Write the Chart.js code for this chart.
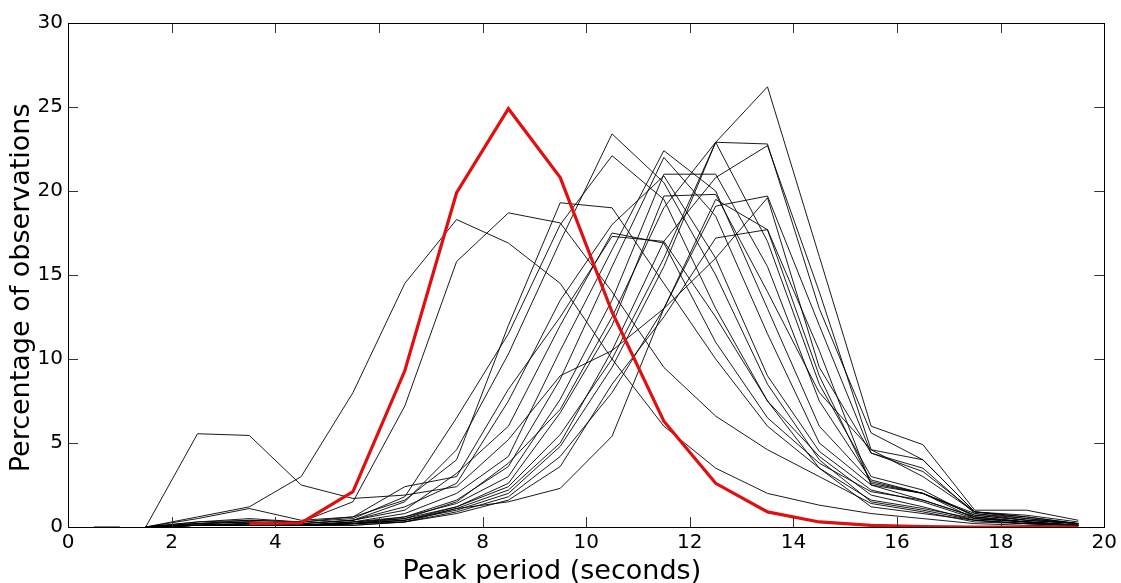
<!DOCTYPE html>
<html>
<head>
<meta charset="utf-8">
<script src="https://cdn.jsdelivr.net/npm/chart.js@4"></script>
<style>
  html, body { margin: 0; padding: 0; background: #fff; }
</style>
</head>
<body>
<canvas id="chart" width="1121" height="583"></canvas>
<script>
// bin centres (seconds)
const periods = [1.5, 2.5, 3.5, 4.5, 5.5, 6.5, 7.5, 8.5, 9.5, 10.5, 11.5, 12.5, 13.5, 14.5, 15.5, 16.5, 17.5, 18.5, 19.5]

// highlighted site (red)
const redSite = [null, null, 0.2, 0.25, 2.1, 9.3, 19.9, 24.9, 20.8, 12.8, 6.3, 2.6, 0.9, 0.3, 0.1, 0.03, 0.0, 0.0, 0.0]

// other sites (black)
const site01 = [0, 5.55, 5.45, 2.5, 1.7, 1.9, 2.4, 5.2, 9.0, 10.5, 13.0, 16.0, 19.6, 9.5, 4.4, 3.3, 0.9, 0.6, 0.2]
const site02 = [0, 0.6, 1.2, 3.0, 8.0, 14.5, 18.3, 16.9, 14.5, 10.0, 6.0, 3.5, 2.0, 1.3, 0.8, 0.5, 0.2, 0.1, 0.05]
const site03 = [0, 0.3, 0.5, 0.3, 1.5, 7.2, 15.8, 18.7, 18.1, 14.0, 9.5, 6.6, 4.6, 3.0, 1.4, 0.9, 0.3, 0.2, 0.1]
const site04 = [0, 0.2, 0.3, 0.2, 0.4, 1.5, 4.6, 10.3, 17.0, 23.4, 20.5, 15.0, 8.5, 4.0, 1.5, 1.0, 0.4, 0.2, 0.1]
const site05 = [0, 0.2, 0.4, 0.3, 0.5, 1.8, 6.5, 11.5, 18.0, 22.1, 19.5, 13.0, 7.5, 3.5, 1.6, 1.1, 0.5, 0.3, 0.1]
const site06 = [0, 0.3, 0.4, 0.3, 0.6, 1.6, 4.0, 12.0, 19.3, 19.0, 14.5, 10.0, 6.0, 3.5, 1.2, 0.8, 0.4, 0.2, 0.1]
const site07 = [0, 0.2, 0.3, 0.2, 0.4, 1.0, 3.2, 6.0, 12.0, 17.5, 16.9, 11.0, 6.5, 3.8, 2.1, 1.6, 0.6, 0.3, 0.1]
const site08 = [0, 0.1, 0.2, 0.1, 0.3, 0.8, 2.0, 4.2, 10.5, 16.5, 22.4, 20.0, 13.0, 6.0, 2.7, 2.0, 0.8, 0.4, 0.2]
const site09 = [0, 0.1, 0.2, 0.1, 0.2, 0.6, 1.6, 3.6, 8.8, 15.5, 22.0, 18.5, 11.5, 5.0, 2.5, 1.6, 0.6, 0.3, 0.1]
const site10 = [0, 0.1, 0.2, 0.1, 0.3, 0.6, 1.4, 3.0, 7.6, 13.5, 21.0, 21.0, 15.5, 7.5, 2.8, 2.0, 0.7, 0.4, 0.2]
const site11 = [0, 0.1, 0.1, 0.1, 0.2, 0.5, 1.2, 2.6, 6.8, 12.0, 19.7, 19.8, 14.0, 8.0, 4.6, 4.0, 0.9, 0.5, 0.2]
const site12 = [0, 0.1, 0.1, 0.1, 0.2, 0.4, 1.2, 2.4, 5.5, 10.0, 16.0, 22.9, 22.8, 13.0, 5.6, 4.0, 0.9, 0.7, 0.3]
const site13 = [0, 0.1, 0.1, 0.1, 0.2, 0.4, 1.0, 2.0, 4.8, 9.5, 15.5, 22.9, 26.2, 16.1, 6.0, 4.9, 1.0, 1.0, 0.4]
const site14 = [0, 0.1, 0.2, 0.1, 0.3, 0.5, 1.5, 3.8, 7.0, 12.5, 19.0, 22.9, 17.0, 8.5, 3.0, 2.2, 0.6, 0.3, 0.1]
const site15 = [0, 0.1, 0.1, 0.1, 0.2, 0.3, 0.9, 1.8, 4.2, 8.0, 13.0, 19.1, 19.7, 12.0, 4.4, 3.5, 0.8, 0.5, 0.2]
const site16 = [0, 0.1, 0.1, 0.1, 0.1, 0.3, 0.8, 1.6, 3.6, 8.5, 12.5, 17.2, 17.7, 10.5, 2.5, 2.0, 0.7, 0.4, 0.2]
const site17 = [0, 0.1, 0.1, 0.1, 0.2, 0.4, 1.1, 2.2, 5.0, 10.5, 17.0, 20.8, 22.7, 14.0, 4.6, 3.0, 0.9, 0.6, 0.2]
const site18 = [0, 0.1, 0.1, 0.1, 0.1, 0.3, 1.1, 1.5, 2.3, 5.4, 13.0, 19.5, 17.7, 9.0, 2.6, 2.0, 0.5, 0.3, 0.1]
const site19 = [0, 0.2, 0.3, 0.2, 0.4, 1.2, 2.6, 7.5, 13.5, 18.0, 20.9, 16.0, 9.0, 4.5, 2.2, 1.5, 0.5, 0.3, 0.1]
const site20 = [0, 0.5, 1.1, 0.4, 0.6, 2.4, 3.0, 8.2, 12.5, 17.3, 17.0, 12.5, 7.5, 4.2, 1.9, 1.2, 0.4, 0.2, 0.1]

// short stub at the far left
const stubPeriods = [0.5, 1.0]
const stubValues = [0, 0]

const blackSites = [site01, site02, site03, site04, site05, site06, site07, site08, site09, site10,
                    site11, site12, site13, site14, site15, site16, site17, site18, site19, site20]

const xTicks = [0, 2, 4, 6, 8, 10, 12, 14, 16, 18, 20]
const yTicks = [0, 5, 10, 15, 20, 25, 30]

const toPoints = (xs, ys) => xs.map((x, i) => ({x: x, y: ys[i]}))

const datasets = [{
    label: 'red',
    data: toPoints(periods, redSite),
    borderColor: '#e01010',
    borderWidth: 3.2,
    pointRadius: 0,
    order: 0,
}]
blackSites.forEach((s, i) => {
    datasets.push({
        label: 'site' + (i + 1),
        data: toPoints(periods, s),
        borderColor: '#000',
        borderWidth: 0.9,
        pointRadius: 0,
        order: 1,
    })
})
datasets.push({
    label: 'stub',
    data: toPoints(stubPeriods, stubValues),
    borderColor: '#000',
    borderWidth: 1.2,
    pointRadius: 0,
    order: 1,
})

// matlab style box with inward ticks on all four sides
const boxTicks = {
    id: 'boxTicks',
    afterDraw(chart) {
        const {ctx, chartArea: a, scales} = chart
        const x = scales.x, y = scales.y
        const len = 10
        ctx.save()
        ctx.strokeStyle = '#333'
        ctx.lineWidth = 1
        ctx.beginPath()
        xTicks.forEach(v => {
            const px = Math.round(x.getPixelForValue(v)) + 0.5
            ctx.moveTo(px, a.bottom); ctx.lineTo(px, a.bottom - len)
            ctx.moveTo(px, a.top); ctx.lineTo(px, a.top + len)
        })
        yTicks.forEach(v => {
            const py = Math.round(y.getPixelForValue(v)) + 0.5
            ctx.moveTo(a.left, py); ctx.lineTo(a.left + len, py)
            ctx.moveTo(a.right, py); ctx.lineTo(a.right - len, py)
        })
        ctx.stroke()
        ctx.strokeStyle = '#000'
        ctx.strokeRect(Math.round(a.left) + 0.5, Math.round(a.top) + 0.5,
                       Math.round(a.right - a.left), Math.round(a.bottom - a.top))
        ctx.restore()
    }
}

const fontFamily = "'DejaVu Sans', 'Liberation Sans', Arial, sans-serif"

// trailing spaces nudge the centred titles the way the original sits
new Chart(document.getElementById('chart'), {
    type: 'line',
    data: {datasets: datasets},
    options: {
        responsive: false,
        animation: false,
        layout: {padding: {top: 23, right: 16, left: 0, bottom: 0}},
        plugins: {legend: {display: false}, tooltip: {enabled: false}},
        elements: {line: {tension: 0}},
        scales: {
            x: {
                type: 'linear',
                min: 0, max: 20,
                grid: {display: false, drawTicks: false, tickLength: 0},
                border: {display: false},
                ticks: {stepSize: 2, color: '#000', padding: 4, maxRotation: 0,
                        font: {family: fontFamily, size: 20}},
                title: {display: true, text: 'Peak period (seconds)        ', color: '#000',
                        padding: {top: 0, bottom: -2},
                        font: {family: fontFamily, size: 27, lineHeight: 1}},
                afterFit: s => { s.height = 56 },
            },
            y: {
                type: 'linear',
                min: 0, max: 30,
                grid: {display: false, drawTicks: false, tickLength: 0},
                border: {display: false},
                ticks: {stepSize: 5, color: '#000', padding: 5,
                        font: {family: fontFamily, size: 20}},
                title: {display: true, text: 'Percentage of observations   ', color: '#000',
                        padding: {top: 8, bottom: 0},
                        font: {family: fontFamily, size: 27, lineHeight: 1}},
                afterFit: s => { s.width = 68 },
            }
        }
    },
    plugins: [boxTicks]
})
</script>
</body>
</html>
